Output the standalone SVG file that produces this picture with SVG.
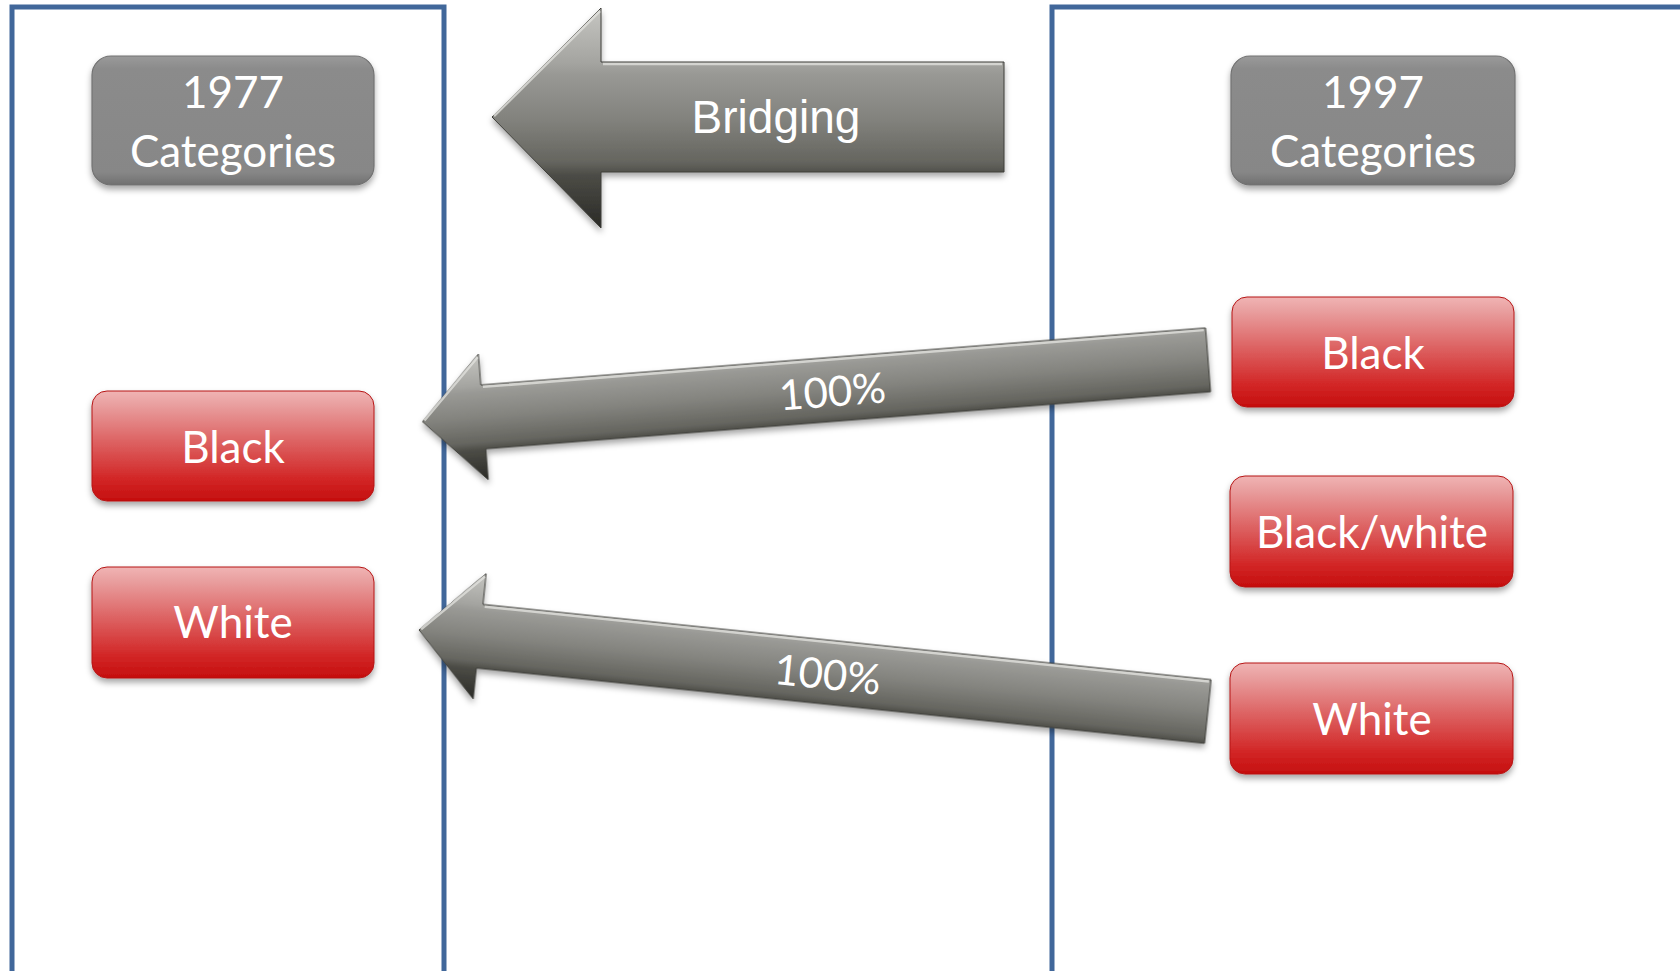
<svg xmlns="http://www.w3.org/2000/svg" width="1680" height="971" viewBox="0 0 1680 971">
  <defs>
    <linearGradient id="redGrad" x1="0" y1="0" x2="0" y2="1">
      <stop offset="0" stop-color="#f0b4b4"/>
      <stop offset="0.12" stop-color="#e9a0a0"/>
      <stop offset="0.45" stop-color="#dd6464"/>
      <stop offset="0.8" stop-color="#d22626"/>
      <stop offset="1" stop-color="#c50e0e"/>
    </linearGradient>
    <linearGradient id="grayGrad" x1="0" y1="0" x2="0" y2="1">
      <stop offset="0" stop-color="#9a9a9a"/>
      <stop offset="0.1" stop-color="#8b8b8b"/>
      <stop offset="0.9" stop-color="#878787"/>
      <stop offset="1" stop-color="#707070"/>
    </linearGradient>
    <linearGradient id="arrowGrad" x1="0" y1="0" x2="0" y2="1">
      <stop offset="0" stop-color="#c6c6c2"/>
      <stop offset="0.25" stop-color="#a4a4a0"/>
      <stop offset="0.3" stop-color="#999995"/>
      <stop offset="0.5" stop-color="#83837e"/>
      <stop offset="0.7" stop-color="#65655f"/>
      <stop offset="0.76" stop-color="#4c4c46"/>
      <stop offset="1" stop-color="#2a2a26"/>
    </linearGradient>
    <filter id="shadow" x="-10%" y="-10%" width="120%" height="135%">
      <feDropShadow dx="0" dy="4" stdDeviation="3" flood-color="#000" flood-opacity="0.35"/>
    </filter>
  </defs>
  <style>
    .panel { fill: none; stroke: #41679a; stroke-width: 5; }
    .gray { fill: url(#grayGrad); stroke: #727272; stroke-width: 1.2; filter: url(#shadow); }
    .red { fill: url(#redGrad); stroke: #b51515; stroke-width: 1; filter: url(#shadow); }
    .arrow { fill: url(#arrowGrad); stroke: #3f3f3a; stroke-width: 1; filter: url(#shadow); }
    .hl { fill: none; stroke: #e4e4e0; stroke-width: 2.5; stroke-opacity: 0.75; }
    .lbl { font-family: Lato, "Open Sans", sans-serif; font-size: 44px; fill: #ffffff; text-anchor: middle; }
    .alb { font-family: Lato, "Open Sans", sans-serif; font-size: 42px; fill: #ffffff; text-anchor: middle; }
    .brg { font-family: "Liberation Sans", Arial, sans-serif; font-size: 46px; fill: #ffffff; text-anchor: middle; }
  </style>
  <rect width="1680" height="971" fill="#ffffff"/>

  <g id="panel-1997">
    <path class="panel" d="M1052,975 L1052,7 L1685,7"/>
  </g>
  <g id="panel-1977">
    <path class="panel" d="M12,975 L12,7 L444,7 L444,975"/>
  </g>

  <g id="connectors">
    <g id="bridging">
      <path class="arrow" d="M492,117 L601,8 L601,62 L1004,62 L1004,172 L601,172 L601,228 Z"/>
      <path class="hl" d="M494,116 L600,11 M603,64 L1002,64"/>
      <text class="brg" x="776" y="133">Bridging</text>
    </g>
    <g id="arrow-black" transform="translate(422.5,421.7) rotate(-4.5)">
      <path class="arrow" d="M0,0 L61,-63 L61,-32 L788,-32 L788,32 L61,32 L61,63 Z"/>
      <path class="hl" d="M2,-1 L60,-60 M63,-30 L786,-30"/>
      <text class="alb" x="411" y="17">100%</text>
    </g>
    <g id="arrow-white" transform="translate(419,630) rotate(5.9)">
      <path class="arrow" d="M0,0 L61,-63 L61,-32 L793,-32 L793,32 L61,32 L61,63 Z"/>
      <path class="hl" d="M2,-1 L60,-60 M63,-30 L791,-30"/>
      <text class="alb" x="411" y="17">100%</text>
    </g>
  </g>

  <g id="header-1977">
    <rect class="gray" x="92" y="56" width="282" height="129" rx="19"/>
    <text class="lbl" x="233" y="108">1977</text>
    <text class="lbl" x="233" y="167">Categories</text>
  </g>
  <g id="header-1997">
    <rect class="gray" x="1231" y="56" width="284" height="129" rx="19"/>
    <text class="lbl" x="1373" y="108">1997</text>
    <text class="lbl" x="1373" y="167">Categories</text>
  </g>

  <g id="black-1977">
    <rect class="red" x="92" y="391" width="282" height="110" rx="15"/>
    <text class="lbl" x="233" y="463">Black</text>
  </g>
  <g id="white-1977">
    <rect class="red" x="92" y="567" width="282" height="111" rx="15"/>
    <text class="lbl" x="233" y="638">White</text>
  </g>

  <g id="black-1997">
    <rect class="red" x="1232" y="297" width="282" height="110" rx="15"/>
    <text class="lbl" x="1373" y="369">Black</text>
  </g>
  <g id="blackwhite-1997">
    <rect class="red" x="1230" y="476" width="283" height="111" rx="15"/>
    <text class="lbl" x="1372" y="548">Black/white</text>
  </g>
  <g id="white-1997">
    <rect class="red" x="1230" y="663" width="283" height="111" rx="15"/>
    <text class="lbl" x="1372" y="735">White</text>
  </g>
</svg>
